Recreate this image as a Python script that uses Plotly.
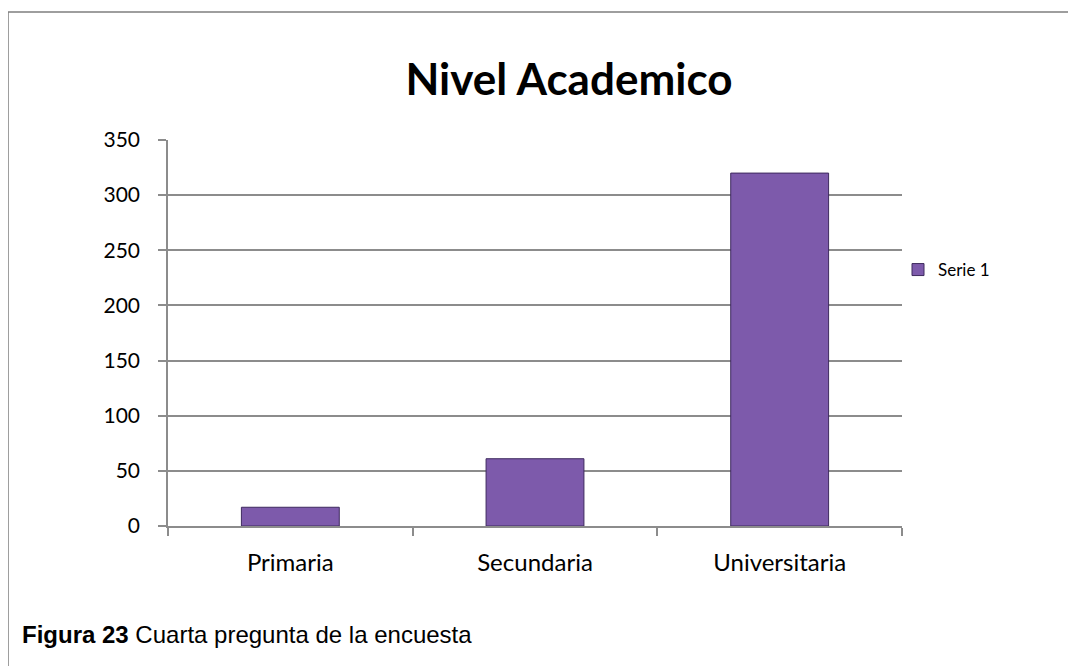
import plotly.graph_objects as go

categories = ["Primaria", "Secundaria", "Universitaria"]
values = [17, 61, 320]
series_name = "Serie 1"
y_ticks = [0, 50, 100, 150, 200, 250, 300, 350]
title_text = "Nivel Academico"
caption_text = "<b>Figura 23</b> Cuarta pregunta de la encuesta"

# page body has an 8px margin, so the figure is 8px shifted
OFF = 8
W, H = 1068, 658
L, T = 168 - OFF, 140 - OFF
pw, ph = 734, 386
R, B = W - L - pw, H - T - ph

def px_x(p):
    return (p - OFF - L) / pw

def px_y(p):
    return (H - B - (p - OFF)) / ph

fig = go.Figure()
fig.add_trace(go.Bar(
    x=categories, y=values, name=series_name,
    marker=dict(color="#7d5aab", line=dict(color="#3e2a5e", width=1)),
    width=0.4, showlegend=True,
))

grid = "#8c8c8c"
fig.update_layout(
    width=W, height=H,
    margin=dict(l=L, r=R, t=T, b=B),
    paper_bgcolor="white", plot_bgcolor="white",
    font=dict(family="Lato, Calibri, sans-serif", size=20, color="#000"),
    title=dict(text="<b>" + title_text + "</b>", x=px_x(569), xref="paper", xanchor="center",
               y=1 - (80 - OFF) / H, yanchor="middle", font=dict(size=44, family="Lato, sans-serif")),
    showlegend=True,
    legend=dict(x=px_x(898), y=px_y(270), xanchor="left", yanchor="middle",
                font=dict(size=17), itemwidth=30, bgcolor="rgba(0,0,0,0)"),
)
fig.update_xaxes(
    type="category", showline=True, linecolor=grid, linewidth=1.5,
    ticks="outside", tickson="boundaries", ticklen=8, tickcolor=grid, tickwidth=1.5,
    showgrid=False, range=[-0.5, 2.5], ticklabelstandoff=14,
    tickfont=dict(size=24),
)
fig.update_yaxes(
    range=[0, 350], tickvals=y_ticks, showline=True, linecolor=grid, linewidth=1.5,
    ticks="outside", ticklen=8, tickcolor=grid, tickwidth=1.5,
    showgrid=True, gridcolor=grid, gridwidth=1.5, zeroline=False,
    ticklabelstandoff=14, tickfont=dict(size=21),
)

# chart frame
fig.add_shape(type="path", xref="paper", yref="paper",
              path=f"M {px_x(8)},{px_y(670)} L {px_x(8)},{px_y(12)} L {px_x(1075)},{px_y(12)} L {px_x(1075)},{px_y(670)}",
              line=dict(color="#7f7f7f", width=1.5))

fig.add_annotation(text=caption_text, xref="paper", yref="paper",
                   x=px_x(20), y=px_y(634), xanchor="left", yanchor="middle",
                   showarrow=False, font=dict(family="Liberation Sans, Arial, sans-serif", size=24, color="#000"))

fig.write_html("out.html")
